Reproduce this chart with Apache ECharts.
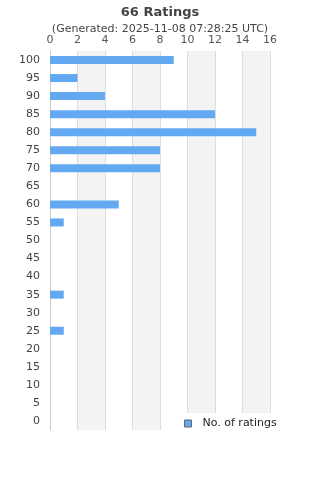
<!DOCTYPE html>
<html lang="en">
<head>
    <meta charset="UTF-8">
    <title>Ratings</title>
    <script src="https://cdn.jsdelivr.net/npm/echarts@6/dist/echarts.min.js"></script>
    <style>
        body {
            margin: 0;
        }
        #main {
            width: 320px;
            height: 480px;
        }
    </style>
</head>
<body>
    <div id="main"></div>
    <script>
        var scores = ['0', '5', '10', '15', '20', '25', '30', '35', '40', '45', '50',
                      '55', '60', '65', '70', '75', '80', '85', '90', '95', '100']
        var counts = [0, 0, 0, 0, 0, 1, 0, 1, 0, 0, 0,
                      1, 5, 0, 8, 8, 15, 12, 4, 2, 9]
        var xTicks = [0, 16, 2]

        var myChart = echarts.init(document.getElementById('main'))

        var option = {
            backgroundColor: '#fff',
            textStyle: { fontFamily: 'DejaVu Sans' },
            title: {
                text: '66 Ratings',
                subtext: '(Generated: 2025-11-08 07:28:25 UTC)',
                left: 'center',
                top: 1,
                itemGap: 5,
                textStyle: { fontSize: 13, fontWeight: 'bold', color: '#444' },
                subtextStyle: { fontSize: 11, color: '#444' }
            },
            legend: {
                data: ['No. of ratings'],
                left: 178,
                top: 413,
                padding: [5, 6],
                backgroundColor: '#fff',
                icon: 'rect',
                itemWidth: 7,
                itemHeight: 7,
                itemStyle: { borderColor: '#666', borderWidth: 1 },
                textStyle: { fontSize: 11, color: '#222', padding: [0, 0, 0, 6] }
            },
            grid: {
                left: 50,
                right: 50,
                top: 51,
                bottom: 50,
                containLabel: false
            },
            xAxis: {
                type: 'value',
                position: 'top',
                min: xTicks[0],
                max: xTicks[1],
                interval: xTicks[2],
                axisLine: { show: false },
                axisTick: { show: false },
                axisLabel: { fontSize: 11, color: '#555', margin: 5 },
                splitLine: { show: true, lineStyle: { color: '#ddd' } },
                splitArea: { show: true, areaStyle: { color: ['#fff', '#f3f3f3'] } }
            },
            yAxis: {
                type: 'category',
                data: scores,
                axisLine: { show: true, lineStyle: { color: '#ccc' } },
                axisTick: { show: false },
                axisLabel: { fontSize: 11, color: '#444', margin: 10, interval: 0 },
                splitLine: { show: false }
            },
            series: [{
                name: 'No. of ratings',
                type: 'bar',
                data: counts,
                barWidth: 8,
                itemStyle: { color: '#63a9f2' }
            }]
        }
        myChart.setOption(option)
    </script>
</body>
</html>
